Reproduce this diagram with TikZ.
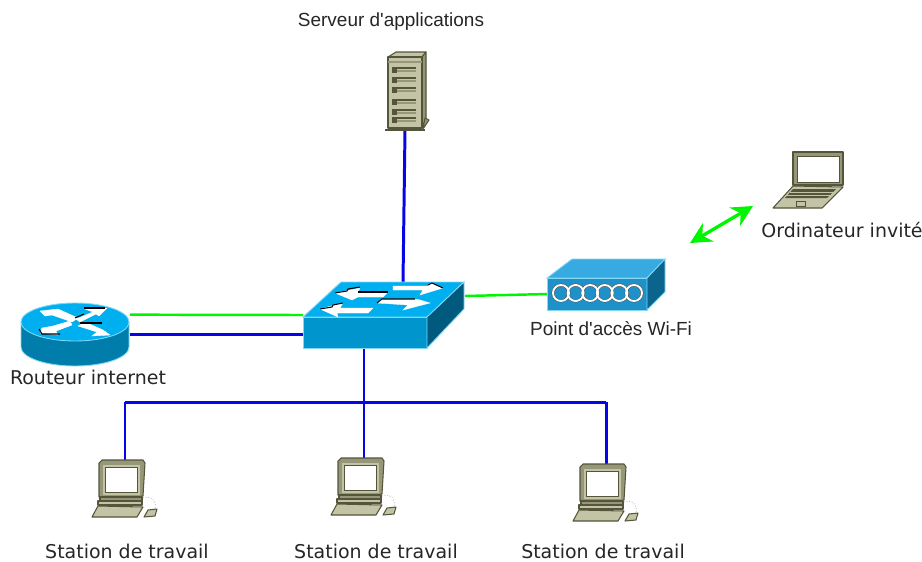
\documentclass[tikz,border=0pt]{standalone}
\usepackage{fontspec}
\setmainfont{DejaVu Sans}
\newfontfamily\arialfont{Liberation Sans}
\usepackage{tikz}
\usetikzlibrary{arrows.meta}
\usepackage{xcolor}

\definecolor{bleulien}{RGB}{5,5,230}
\definecolor{vertlien}{RGB}{0,245,0}
\definecolor{cielhaut}{RGB}{0,175,240}
\definecolor{cielface}{RGB}{0,150,205}
\definecolor{cielcote}{RGB}{0,90,125}
\definecolor{cielbord}{RGB}{130,215,245}
\definecolor{aphaut}{RGB}{55,170,225}
\definecolor{apface}{RGB}{30,145,200}
\definecolor{apcote}{RGB}{10,100,140}
\definecolor{routeurface}{RGB}{0,125,170}
\definecolor{grisclair}{RGB}{195,195,165}
\definecolor{grismoyen}{RGB}{150,150,120}
\definecolor{grisfonce}{RGB}{85,85,60}

\tikzset{
        appareil/.style={inner sep=0pt,outer sep=0pt},
        etiquette/.style={inner sep=0pt,font=\fontsize{10.8}{12}\selectfont,text=black!85},
        etiquettearial/.style={inner sep=0pt,font=\arialfont\fontsize{10.8}{12}\selectfont,text=black!85},
        lienbleu/.style={draw=bleulien,line width=1.7pt},
        lienvert/.style={draw=vertlien,line width=1.4pt},
        contour/.style={draw=grisfonce,line width=0.6pt,line join=round},
        fleche/.style={fill=white,draw=white,line width=0.2pt}
}

\newcommand{\iconestation}[2]{
        \begin{scope}[shift={(#1,#2)}]
                \filldraw[contour,fill=grismoyen] (99,463) -- (102,460) -- (143,460) -- (145,463) -- (143,496) -- (99,497) -- cycle;
                \filldraw[draw=grismoyen,fill=grisclair] (102,464) rectangle (140,495);
                \filldraw[draw=grisfonce,fill=white,line width=0.3pt] (105,467) rectangle (137,492);
                \filldraw[contour,fill=grismoyen] (100,497) rectangle (142,501);
                \filldraw[contour,fill=grisclair] (98,501) rectangle (142,505);
                \filldraw[contour,fill=grisclair] (98,506) -- (143,507) -- (137,517) -- (92,517) -- cycle;
                \filldraw[contour,fill=grisclair] (148,510) -- (157,509) -- (155,516) -- (144,517) -- cycle;
                \draw[black!25,densely dotted,line width=0.5pt] (143,498) .. controls (152,495) and (157,502) .. (155,509);
        \end{scope}
}

\begin{document}
\begin{tikzpicture}[x=0.02cm,y=-0.02cm]
        \useasboundingbox (0,0) rectangle (922,561);

        \node [appareil,minimum width=0.8cm,minimum height=1.56cm] (serveur) at (405,91) {};
        \node [appareil,minimum width=3.24cm,minimum height=1.32cm] (switch) at (384,315) {};
        \node [appareil,minimum width=2.18cm,minimum height=1.26cm] (routeur) at (75.5,334.5) {};
        \node [appareil,minimum width=2.36cm,minimum height=1.02cm] (wifi) at (606,284.5) {};
        \node [appareil,minimum width=1.4cm,minimum height=1.12cm] (invite) at (808,180) {};
        \node [appareil,minimum width=1.32cm,minimum height=1.14cm] (station1) at (125,488.5) {};
        \node [appareil,minimum width=1.32cm,minimum height=1.14cm] (station2) at (364,486.5) {};
        \node [appareil,minimum width=1.32cm,minimum height=1.14cm] (station3) at (606,492.5) {};

        \node [etiquettearial] (texteserveur) at (391,22) {Serveur d\textquotesingle applications};
        \node [etiquette] (texteinvite) at (842,230) {Ordinateur invité};
        \node [etiquettearial] (textewifi) at (611,329) {Point d\textquotesingle accès Wi-Fi};
        \node [etiquette] (texterouteur) at (88,377) {Routeur internet};
        \node [etiquette] (textestation1) at (127,551) {Station de travail};
        \node [etiquette] (textestation2) at (376,551) {Station de travail};
        \node [etiquette] (textestation3) at (603,551) {Station de travail};

        \coordinate (switchhaut) at (403,282);
        \coordinate (switchbas) at (364,348);
        \coordinate (switchdroite) at (465,296);
        \coordinate (wifigauche) at (548,294);
        \coordinate (bus) at (364,402);
        \coordinate (busgauche) at (125,402);
        \coordinate (busdroite) at (606,402);
        \coordinate (ondeA) at (690,243);
        \coordinate (ondeB) at (753,206);

        \draw [lienbleu] (serveur.south) -- (switchhaut);
        \draw [lienvert] (routeur.20) -- (switch.west);
        \draw [lienbleu] (routeur.east) -- (routeur.east -| switch.west);
        \draw [lienvert] (switchdroite) -- (wifigauche);
        \draw [lienbleu] (switchbas) -- (bus);
        \draw [lienbleu] (busgauche) -- (busdroite);
        \draw [lienbleu] (busgauche) -- (station1.north);
        \draw [lienbleu] (bus) -- (station2.north);
        \draw [lienbleu] (busdroite) -- (station3.north);
        \draw [draw=vertlien,line width=1.9pt,{Stealth[length=12pt,width=12pt]}-{Stealth[length=12pt,width=12pt]}] (ondeA) -- (ondeB);

        \filldraw[contour,fill=grisclair] (388,57) -- (396,52) -- (426,52) -- (422,57) -- cycle;
        \filldraw[contour,fill=grismoyen] (422,57) -- (426,52) -- (426,118) -- (422,128) -- cycle;
        \filldraw[contour,fill=grisclair] (388,57) rectangle (422,128);
        \filldraw[contour,fill=grismoyen] (425,118) -- (429,120) -- (423,129) -- cycle;
        \draw[grisfonce,line width=0.9pt] (385,130) -- (425,130);
        \draw[grismoyen,line width=0.8pt] (388,62) -- (422,62);
        \foreach \rang in {70,80,90,102,112,120} {
                \fill[grisfonce] (392,\rang-3) rectangle (397,\rang+3);
                \draw[grisfonce,line width=0.8pt] (397,\rang-2) -- (416,\rang-2);
                \draw[grismoyen,line width=0.9pt] (397,\rang+1) -- (416,\rang+1);
        }

        \filldraw[draw=cielbord,fill=cielhaut,line width=0.5pt] (303,317) -- (341,282) -- (464,282) -- (427,317) -- cycle;
        \filldraw[draw=cielbord,fill=cielface,line width=0.5pt] (303,317) rectangle (427,348);
        \filldraw[draw=cielbord,fill=cielcote,line width=0.5pt] (427,317) -- (464,282) -- (464,309) -- (427,348) -- cycle;
        \filldraw[fleche] (335,293) -- (360,288) -- (358,292) -- (388,292) -- (383,297) -- (358,297) -- (352,300) -- cycle;
        \filldraw[fleche] (393,286) -- (428,286) -- (432,283) -- (443,288) -- (420,295) -- (423,290) -- (393,290) -- cycle;
        \filldraw[fleche] (377,303) -- (382,299) -- (415,299) -- (420,300) -- (430,303) -- (403,310) -- (408,305) -- (377,303) -- cycle;
        \filldraw[fleche] (320,309) -- (343,303) -- (340,308) -- (373,308) -- (368,313) -- (337,313) -- (338,317) -- cycle;
        \draw[black,line width=0.6pt] (335,293) -- (347,291) -- (348,289) -- (360,287);
        \draw[black,line width=0.6pt] (358,292) -- (388,292);
        \draw[black,line width=0.6pt] (428,285) -- (432,283) -- (443,288);
        \draw[black,line width=0.6pt] (377,303) -- (382,299) -- (415,299);
        \draw[black,line width=0.6pt] (320,309) -- (332,307) -- (333,305) -- (343,303);

        \filldraw[draw=cielbord,fill=routeurface,line width=0.5pt] (21,322) -- (21,347) arc[start angle=180,end angle=0,x radius=54,y radius=19] -- (129,322) -- cycle;
        \filldraw[draw=cielbord,fill=cielhaut,line width=0.5pt] (75,322) ellipse[x radius=54,y radius=19];
        \filldraw[fleche] (40,311) -- (58,309) -- (78,318) -- (72,322) -- (52,315) -- (45,316) -- cycle;
        \filldraw[fleche] (78,326) -- (85,322) -- (103,330) -- (110,335) -- (92,336) -- (97,332) -- cycle;
        \filldraw[fleche] (76,319) -- (93,312) -- (85,309) -- (107,308) -- (99,316) -- (96,314) -- (80,322) -- cycle;
        \filldraw[fleche] (72,325) -- (56,331) -- (58,335) -- (40,333) -- (42,328) -- (53,326) -- (70,321) -- cycle;
        \draw[black,line width=0.6pt] (84,308) -- (105,308);
        \draw[black,line width=0.6pt] (75,318) -- (84,314);
        \draw[black,line width=0.6pt] (80,323) -- (102,323);
        \draw[black,line width=0.6pt] (39,329) -- (42,334) -- (60,334);

        \filldraw[draw=cielbord,fill=aphaut,line width=0.5pt] (547,278) -- (572,259) -- (665,259) -- (647,278) -- cycle;
        \filldraw[draw=cielbord,fill=apface,line width=0.5pt] (547,278) rectangle (647,310);
        \filldraw[draw=cielbord,fill=apcote,line width=0.5pt] (647,278) -- (665,259) -- (665,292) -- (647,310) -- cycle;
        \foreach \rang in {0,...,5} {
                \draw[black!70,line width=1.6pt] (561+\rang*14.6,293) circle[radius=8];
        }
        \foreach \rang in {0,...,5} {
                \draw[white,line width=1.1pt] (561+\rang*14.6,293) circle[radius=8];
        }

        \filldraw[contour,fill=grismoyen] (793,152) rectangle (843,185);
        \filldraw[draw=grisfonce,fill=white,line width=0.3pt] (797,156) rectangle (839,182);
        \filldraw[contour,fill=grisclair] (793,186) -- (843,187) -- (822,208) -- (773,208) -- cycle;
        \fill[grisfonce] (793,189) -- (836,189) -- (827,198) -- (785,198) -- cycle;
        \draw[grisclair,line width=0.4pt] (790,192) -- (833,192);
        \draw[grisclair,line width=0.4pt] (787,195) -- (830,195);
        \draw[grisfonce,line width=0.4pt] (796,201) rectangle (805,206);

        \iconestation{0}{0}
        \iconestation{239}{-2}
        \iconestation{481}{4}
\end{tikzpicture}
\end{document}
